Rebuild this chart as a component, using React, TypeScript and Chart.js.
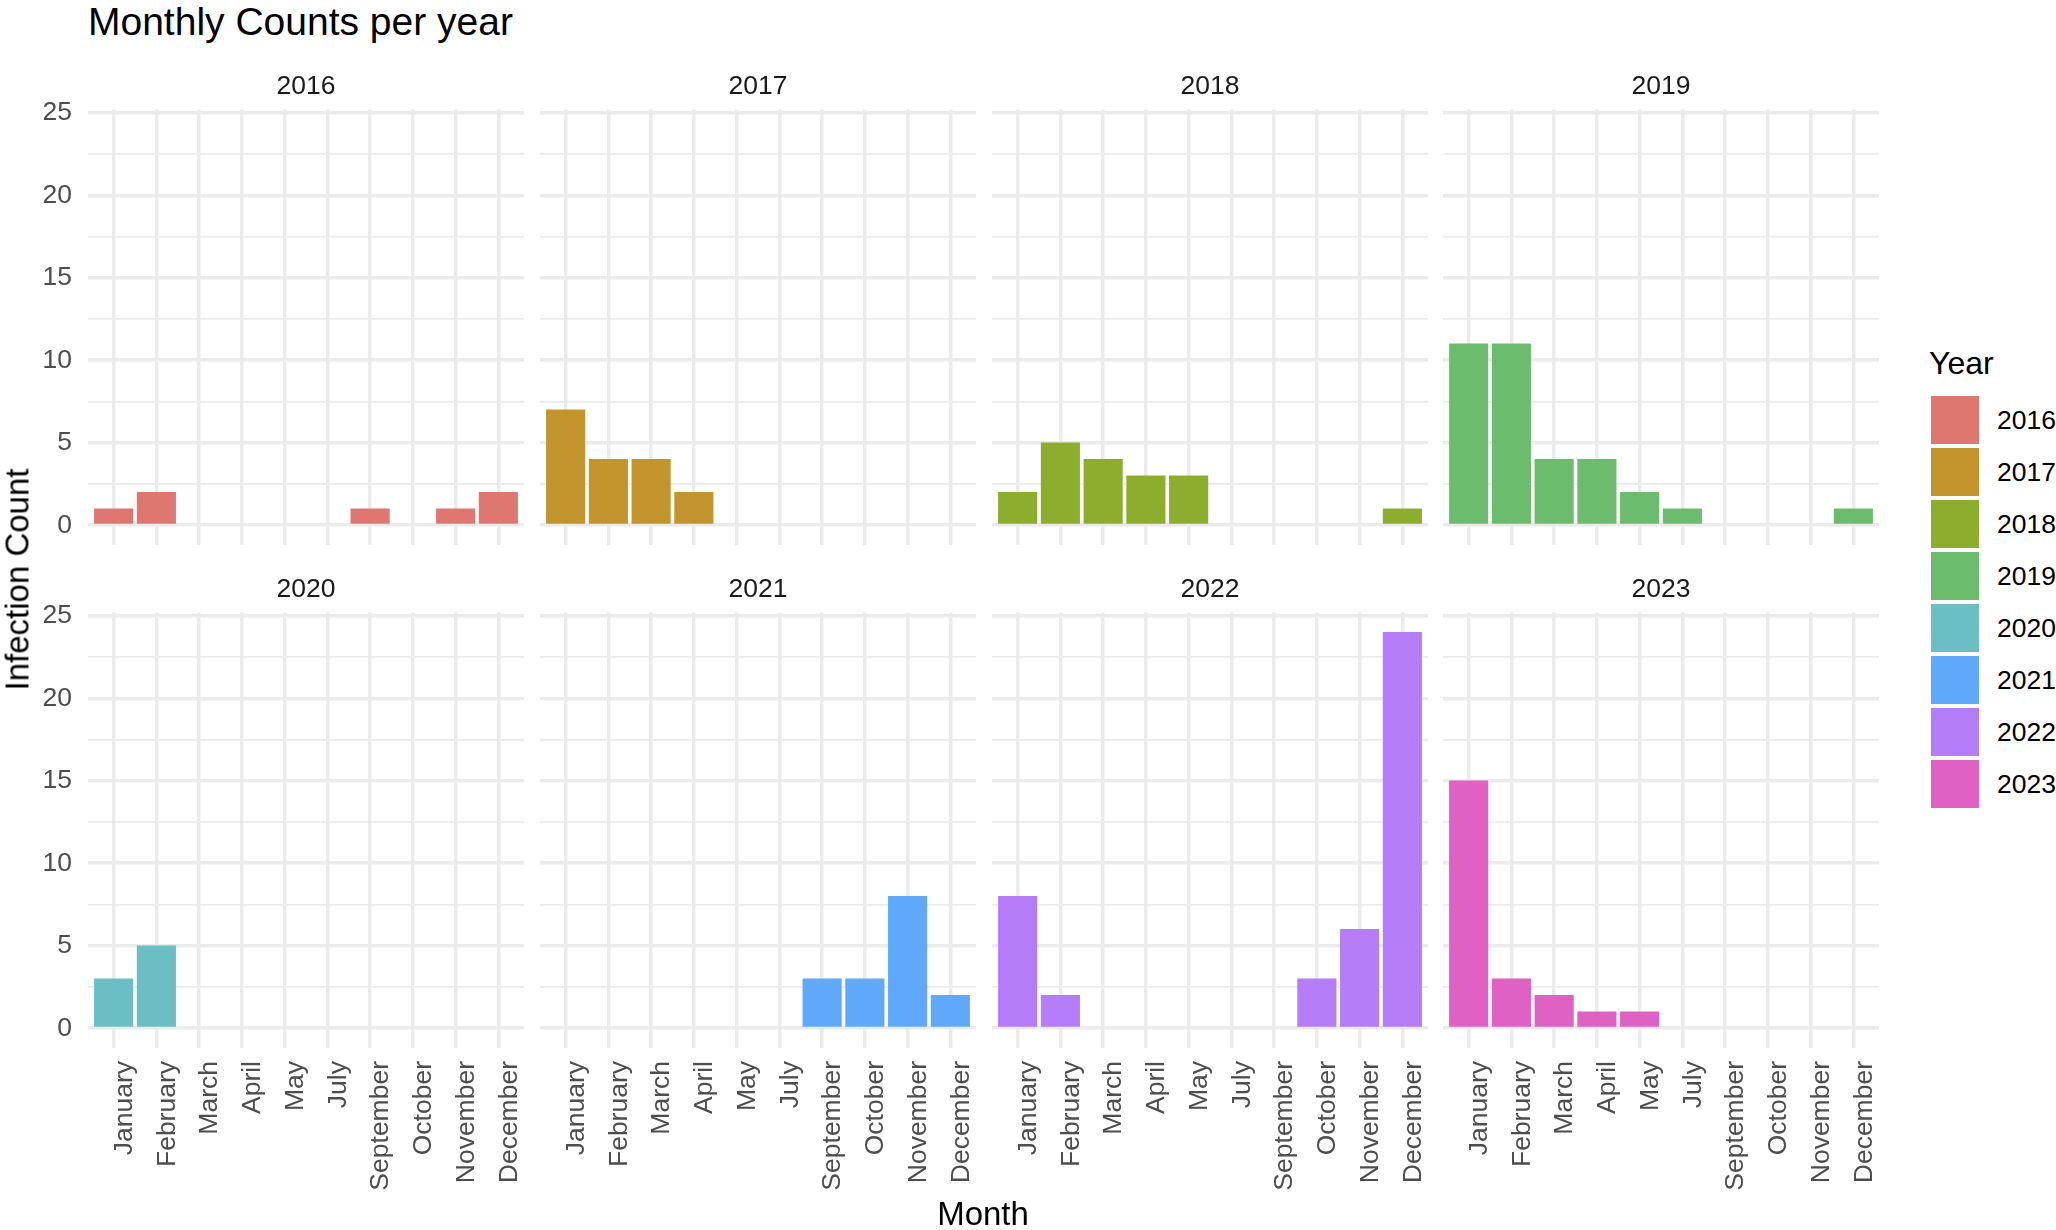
import React, { useEffect, useRef } from 'react';
import { Chart, registerables } from 'chart.js';

Chart.register(...registerables);

// ---------- data ----------
const MONTHS = ['January', 'February', 'March', 'April', 'May', 'July', 'September', 'October', 'November', 'December'];
const YEARS = ['2016', '2017', '2018', '2019', '2020', '2021', '2022', '2023'];

const COUNTS_2016 = [1, 2, 0, 0, 0, 0, 1, 0, 1, 2];
const COUNTS_2017 = [7, 4, 4, 2, 0, 0, 0, 0, 0, 0];
const COUNTS_2018 = [2, 5, 4, 3, 3, 0, 0, 0, 0, 1];
const COUNTS_2019 = [11, 11, 4, 4, 2, 1, 0, 0, 0, 1];
const COUNTS_2020 = [3, 5, 0, 0, 0, 0, 0, 0, 0, 0];
const COUNTS_2021 = [0, 0, 0, 0, 0, 0, 3, 3, 8, 2];
const COUNTS_2022 = [8, 2, 0, 0, 0, 0, 0, 3, 6, 24];
const COUNTS_2023 = [15, 3, 2, 1, 1, 0, 0, 0, 0, 0];

const SERIES = [COUNTS_2016, COUNTS_2017, COUNTS_2018, COUNTS_2019, COUNTS_2020, COUNTS_2021, COUNTS_2022, COUNTS_2023];

const YEAR_COLORS = ['#DF7771', '#C1952C', '#8DAD2D', '#6BBD6D', '#6BBEC4', '#60A8FA', '#B47DF7', '#DF61C4'];

const Y_GRID_VALUES = [0, 2.5, 5, 7.5, 10, 12.5, 15, 17.5, 20, 22.5, 25];

// ---------- layout / style ----------
const FONT = '"Liberation Sans", Arial, Helvetica, sans-serif';
const GRID = '#EBEBEB';
const PANEL_LEFT = [88, 540, 992, 1443];
const PANEL_TOP = [110, 613];
const PANEL_W = 436;
const PANEL_H = 435;
const STRIP_H = 43;
const Y_AXIS_W = 88;
const X_AXIS_H = 160;

function zeroPadding(s: any) {
  s.paddingTop = 0;
  s.paddingBottom = 0;
  s.paddingLeft = 0;
  s.paddingRight = 0;
}

function Panel({ index }: { index: number }) {
  const ref = useRef<HTMLCanvasElement | null>(null);
  const row = Math.floor(index / 4);
  const col = index % 4;
  const leftMargin = col === 0 ? Y_AXIS_W : 0;
  const bottomMargin = row === 1 ? X_AXIS_H : 0;
  const width = leftMargin + PANEL_W;
  const height = STRIP_H + PANEL_H + bottomMargin;
  const left = PANEL_LEFT[col] - leftMargin;
  const top = PANEL_TOP[row] - STRIP_H;

  useEffect(() => {
    if (!ref.current) return;
    const unit = PANEL_W / 10.2;
    const points = SERIES[index]
      .map((v, i) => ({ x: i, y: v }))
      .filter((p) => p.y > 0);
    const chart = new Chart(ref.current, {
      type: 'bar',
      data: {
        datasets: [
          {
            data: points as any,
            backgroundColor: YEAR_COLORS[index],
            borderWidth: 0,
            barThickness: unit * 0.9,
          },
        ],
      },
      options: {
        animation: false,
        responsive: false,
        devicePixelRatio: 1,
        layout: { padding: 0 },
        plugins: {
          legend: { display: false },
          tooltip: { enabled: false },
          title: {
            display: true,
            text: YEARS[index],
            fullSize: false,
            color: '#1A1A1A',
            font: { family: FONT, size: 26.5, lineHeight: 1, weight: 'normal' },
            padding: { top: 6, bottom: 10 },
          },
        },
        scales: {
          x: {
            type: 'linear',
            min: -0.6,
            max: 9.6,
            bounds: 'data',
            offset: false,
            afterBuildTicks: (s: any) => {
              s.ticks = MONTHS.map((_, i) => ({ value: i }));
            },
            afterFit: (s: any) => {
              s.height = bottomMargin;
              zeroPadding(s);
            },
            grid: { color: GRID, lineWidth: 3.5, drawTicks: false, offset: false },
            border: { display: false },
            ticks: {
              display: row === 1,
              autoSkip: false,
              minRotation: 90,
              maxRotation: 90,
              padding: 13,
              labelOffset: 11,
              color: '#4D4D4D',
              font: { family: FONT, size: 26.5 },
              callback: (v: any) => MONTHS[v] ?? '',
            },
          },
          y: {
            type: 'linear',
            min: -1.2,
            max: 25.2,
            bounds: 'data',
            afterBuildTicks: (s: any) => {
              s.ticks = Y_GRID_VALUES.map((v) => ({ value: v }));
            },
            afterFit: (s: any) => {
              s.width = leftMargin;
              zeroPadding(s);
            },
            grid: {
              color: GRID,
              lineWidth: (ctx: any) => (ctx.tick && ctx.tick.value % 5 === 0 ? 3.5 : 1.8),
              drawTicks: false,
            },
            border: { display: false },
            ticks: {
              display: col === 0,
              padding: 16,
              color: '#4D4D4D',
              font: { family: FONT, size: 26.5 },
              callback: (v: any) => (v % 5 === 0 ? String(v) : ''),
            },
          },
        },
      } as any,
    });
    return () => chart.destroy();
  }, []);

  return (
    <canvas
      ref={ref}
      width={width}
      height={height}
      style={{ position: 'absolute', left, top, width, height }}
    />
  );
}

export default function App() {
  return (
    <div
      style={{
        position: 'absolute',
        left: 0,
        top: 0,
        width: 2056,
        height: 1230,
        background: '#FFFFFF',
        overflow: 'hidden',
        fontFamily: FONT,
      }}
    >
      <div
        style={{
          position: 'absolute',
          left: 88,
          top: 2,
          fontSize: 39,
          lineHeight: '39px',
          color: '#000000',
          whiteSpace: 'nowrap',
        }}
      >
        Monthly Counts per year
      </div>

      {YEARS.map((_, i) => (
        <Panel key={i} index={i} />
      ))}

      <div
        style={{
          position: 'absolute',
          left: 983,
          top: 1197,
          fontSize: 33,
          lineHeight: '33px',
          color: '#000000',
          whiteSpace: 'nowrap',
          transform: 'translateX(-50%)',
        }}
      >
        Month
      </div>

      <div
        style={{
          position: 'absolute',
          left: 17 - 150,
          top: 579 - 16.5,
          width: 300,
          height: 33,
          fontSize: 33,
          lineHeight: '33px',
          color: '#000000',
          textAlign: 'center',
          transform: 'rotate(-90deg)',
          whiteSpace: 'nowrap',
        }}
      >
        Infection Count
      </div>

      <div
        style={{
          position: 'absolute',
          left: 1929,
          top: 347,
          fontSize: 32,
          lineHeight: '32px',
          color: '#000000',
          whiteSpace: 'nowrap',
        }}
      >
        Year
      </div>
      {YEARS.map((y, k) => (
        <React.Fragment key={y}>
          <div
            style={{
              position: 'absolute',
              left: 1931,
              top: 396 + 52 * k,
              width: 48,
              height: 48,
              background: YEAR_COLORS[k],
            }}
          />
          <div
            style={{
              position: 'absolute',
              left: 1997,
              top: 396 + 52 * k,
              height: 48,
              fontSize: 26.5,
              lineHeight: '48px',
              color: '#000000',
              whiteSpace: 'nowrap',
            }}
          >
            {y}
          </div>
        </React.Fragment>
      ))}
    </div>
  );
}
